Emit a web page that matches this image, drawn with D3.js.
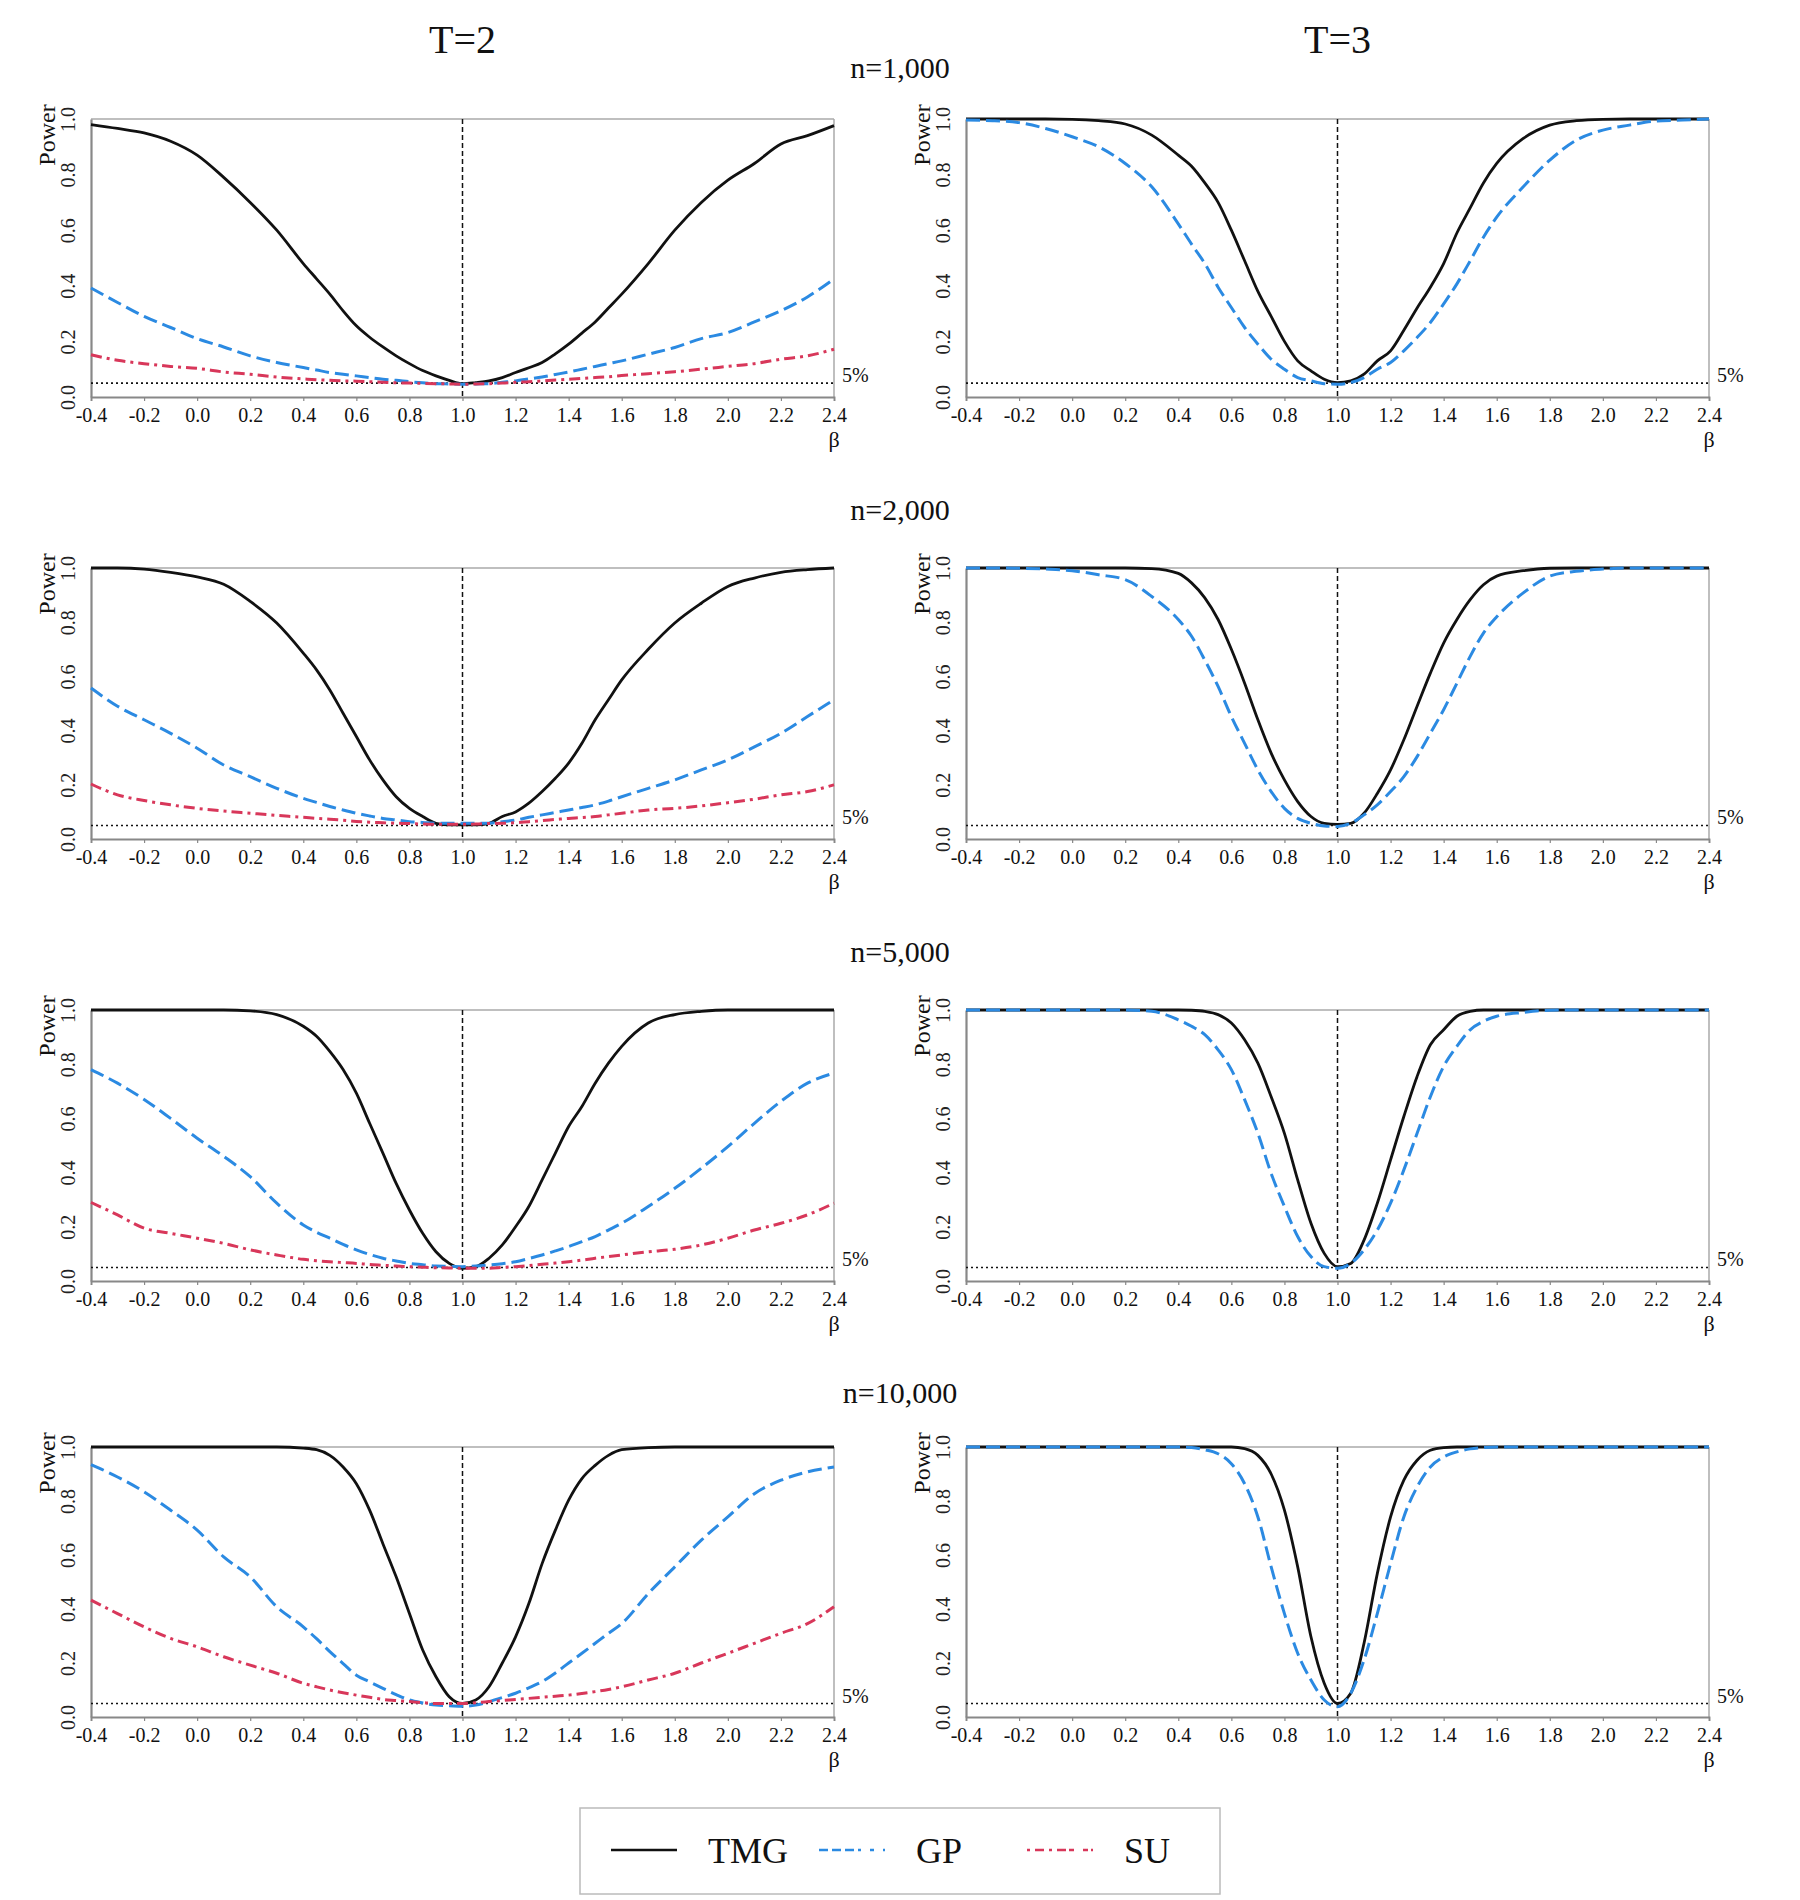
<!DOCTYPE html>
<html>
<head>
<meta charset="utf-8">
<script src="https://cdn.jsdelivr.net/npm/d3@7"></script>
<style>
  body { margin: 0; background: #fff; }
  svg text { font-family: "Liberation Serif", "Times New Roman", serif; fill: #111; }
</style>
</head>
<body>
<div id="chart"></div>
<script>
    // beta grid shared by every curve
    const beta = [-0.4, -0.3, -0.2, -0.1, 0.0, 0.1, 0.2, 0.3,
        0.4, 0.45, 0.5, 0.55, 0.6, 0.65, 0.7, 0.75, 0.8, 0.85, 0.9, 0.95,
        1.0, 1.05, 1.1, 1.15, 1.2, 1.25, 1.3, 1.35, 1.4, 1.45, 1.5, 1.55, 1.6,
        1.7, 1.8, 1.9, 2.0, 2.1, 2.2, 2.3, 2.4]

    const xTicks = [-0.4, -0.2, 0.0, 0.2, 0.4, 0.6, 0.8, 1.0, 1.2, 1.4, 1.6, 1.8, 2.0, 2.2, 2.4]
    const yTicks = [0.0, 0.2, 0.4, 0.6, 0.8, 1.0]
    const columnTitles = ["T=2", "T=3"]
    const rowTitles = ["n=1,000", "n=2,000", "n=5,000", "n=10,000"]
    const seriesNames = ["TMG", "GP", "SU"]

    // T=2, n=1,000
    const tmg_t2_n1000 = [0.98, 0.966, 0.95, 0.92, 0.87, 0.79, 0.70, 0.60,
        0.48, 0.425, 0.37, 0.31, 0.256, 0.215, 0.18, 0.148, 0.12, 0.095, 0.076, 0.06,
        0.048, 0.052, 0.058, 0.07, 0.088, 0.105, 0.124, 0.155, 0.19, 0.23, 0.27, 0.32, 0.37,
        0.48, 0.60, 0.70, 0.78, 0.84, 0.91, 0.94, 0.976]
    const gp_t2_n1000 = [0.392, 0.34, 0.29, 0.25, 0.21, 0.18, 0.148, 0.124,
        0.106, 0.097, 0.088, 0.082, 0.076, 0.07, 0.064, 0.06, 0.055, 0.051, 0.048, 0.047,
        0.046, 0.047, 0.048, 0.053, 0.058, 0.065, 0.072, 0.081, 0.09, 0.1, 0.11, 0.12, 0.13,
        0.154, 0.178, 0.21, 0.232, 0.27, 0.31, 0.36, 0.425]
    const su_t2_n1000 = [0.152, 0.132, 0.12, 0.11, 0.103, 0.09, 0.082, 0.072,
        0.065, 0.062, 0.06, 0.058, 0.057, 0.055, 0.053, 0.051, 0.05, 0.049, 0.048, 0.047,
        0.046, 0.047, 0.048, 0.05, 0.053, 0.055, 0.058, 0.061, 0.064, 0.067, 0.07, 0.073, 0.077,
        0.084, 0.091, 0.1, 0.11, 0.12, 0.136, 0.148, 0.172]

    // T=3, n=1,000
    const tmg_t3_n1000 = [1, 1, 1, 1, 0.999, 0.994, 0.982, 0.942,
        0.87, 0.83, 0.77, 0.70, 0.60, 0.49, 0.38, 0.29, 0.20, 0.13, 0.094, 0.064,
        0.052, 0.058, 0.082, 0.13, 0.166, 0.24, 0.32, 0.395, 0.48, 0.59, 0.68, 0.77, 0.84,
        0.93, 0.978, 0.994, 0.999, 1, 1, 1, 1]
    const gp_t3_n1000 = [0.996, 0.994, 0.987, 0.966, 0.936, 0.90, 0.84, 0.756,
        0.623, 0.55, 0.48, 0.395, 0.322, 0.25, 0.19, 0.136, 0.10, 0.07, 0.058, 0.048,
        0.046, 0.052, 0.07, 0.10, 0.124, 0.166, 0.214, 0.268, 0.335, 0.407, 0.49, 0.575, 0.647,
        0.756, 0.852, 0.924, 0.96, 0.978, 0.993, 0.996, 1.0]

    // T=2, n=2,000
    const tmg_t2_n2000 = [1, 1, 0.996, 0.984, 0.967, 0.94, 0.877, 0.797,
        0.686, 0.624, 0.55, 0.464, 0.378, 0.292, 0.218, 0.156, 0.113, 0.083, 0.058, 0.052,
        0.052, 0.052, 0.058, 0.083, 0.10, 0.132, 0.175, 0.224, 0.28, 0.353, 0.44, 0.514, 0.587,
        0.70, 0.797, 0.87, 0.932, 0.963, 0.984, 0.994, 1.0]
    const gp_t2_n2000 = [0.557, 0.49, 0.44, 0.39, 0.335, 0.273, 0.23, 0.187,
        0.15, 0.135, 0.12, 0.107, 0.095, 0.085, 0.076, 0.07, 0.064, 0.061, 0.058, 0.058,
        0.058, 0.058, 0.058, 0.064, 0.07, 0.08, 0.089, 0.098, 0.107, 0.116, 0.126, 0.14, 0.156,
        0.187, 0.218, 0.255, 0.292, 0.34, 0.39, 0.452, 0.514]
    const su_t2_n2000 = [0.203, 0.163, 0.142, 0.126, 0.113, 0.103, 0.095, 0.087,
        0.08, 0.076, 0.073, 0.069, 0.065, 0.062, 0.06, 0.058, 0.057, 0.055, 0.054, 0.054,
        0.054, 0.055, 0.057, 0.058, 0.06, 0.064, 0.068, 0.072, 0.076, 0.079, 0.083, 0.089, 0.095,
        0.107, 0.113, 0.122, 0.134, 0.147, 0.163, 0.175, 0.2]

    // T=3, n=2,000
    const tmg_t3_n2000 = [1, 1, 1, 1, 1, 1, 1, 0.998,
        0.98, 0.945, 0.89, 0.81, 0.70, 0.575, 0.44, 0.317, 0.218, 0.138, 0.083, 0.058,
        0.054, 0.058, 0.095, 0.168, 0.255, 0.366, 0.49, 0.612, 0.723, 0.81, 0.883, 0.938, 0.97,
        0.99, 0.999, 1, 1, 1, 1, 1, 1]
    const gp_t3_n2000 = [1, 1, 0.999, 0.996, 0.99, 0.975, 0.957, 0.895,
        0.81, 0.748, 0.66, 0.563, 0.452, 0.353, 0.255, 0.175, 0.113, 0.076, 0.058, 0.048,
        0.046, 0.058, 0.089, 0.126, 0.175, 0.23, 0.304, 0.39, 0.477, 0.575, 0.674, 0.76, 0.82,
        0.908, 0.97, 0.988, 0.996, 1, 1, 1, 1]

    // T=2, n=5,000
    const tmg_t2_n5000 = [1, 1, 1, 1, 1, 1, 0.997, 0.983,
        0.94, 0.903, 0.847, 0.78, 0.693, 0.582, 0.472, 0.36, 0.262, 0.176, 0.108, 0.065,
        0.047, 0.053, 0.084, 0.133, 0.2, 0.275, 0.373, 0.472, 0.57, 0.644, 0.73, 0.804, 0.866,
        0.952, 0.983, 0.995, 1, 1, 1, 1, 1]
    const gp_t2_n5000 = [0.78, 0.73, 0.67, 0.6, 0.527, 0.46, 0.385, 0.287,
        0.207, 0.18, 0.158, 0.135, 0.115, 0.098, 0.084, 0.074, 0.065, 0.06, 0.055, 0.054,
        0.053, 0.055, 0.059, 0.064, 0.071, 0.083, 0.096, 0.111, 0.127, 0.145, 0.164, 0.188, 0.213,
        0.275, 0.342, 0.416, 0.496, 0.582, 0.663, 0.73, 0.767]
    const su_t2_n5000 = [0.29, 0.244, 0.195, 0.176, 0.158, 0.139, 0.115, 0.096,
        0.08, 0.075, 0.071, 0.068, 0.065, 0.061, 0.058, 0.055, 0.053, 0.051, 0.049, 0.048,
        0.047, 0.047, 0.047, 0.05, 0.053, 0.057, 0.062, 0.066, 0.071, 0.077, 0.084, 0.09, 0.096,
        0.108, 0.117, 0.133, 0.158, 0.188, 0.213, 0.244, 0.287]

    // T=3, n=5,000
    const tmg_t3_n5000 = [1, 1, 1, 1, 1, 1, 1, 1,
        1, 0.999, 0.995, 0.983, 0.952, 0.89, 0.804, 0.68, 0.545, 0.373, 0.213, 0.102,
        0.053, 0.065, 0.151, 0.287, 0.447, 0.607, 0.755, 0.872, 0.927, 0.977, 0.995, 1, 1,
        1, 1, 1, 1, 1, 1, 1, 1]
    const gp_t3_n5000 = [1, 1, 1, 1, 1, 1, 1, 0.995,
        0.964, 0.94, 0.909, 0.853, 0.78, 0.669, 0.545, 0.397, 0.275, 0.164, 0.09, 0.053,
        0.047, 0.065, 0.115, 0.188, 0.287, 0.41, 0.545, 0.68, 0.792, 0.866, 0.927, 0.958, 0.977,
        0.991, 0.999, 1, 1, 1, 1, 1, 1]

    // T=2, n=10,000
    const tmg_t2_n10000 = [1, 1, 1, 1, 1, 1, 1, 1,
        0.996, 0.99, 0.969, 0.926, 0.864, 0.766, 0.642, 0.519, 0.383, 0.248, 0.149, 0.075,
        0.05, 0.063, 0.112, 0.2, 0.297, 0.42, 0.568, 0.692, 0.803, 0.883, 0.932, 0.969, 0.99,
        0.998, 1, 1, 1, 1, 1, 1, 1]
    const gp_t2_n10000 = [0.935, 0.889, 0.834, 0.766, 0.692, 0.593, 0.519, 0.408,
        0.334, 0.29, 0.242, 0.198, 0.155, 0.13, 0.106, 0.083, 0.063, 0.052, 0.044, 0.042,
        0.04, 0.044, 0.057, 0.072, 0.088, 0.108, 0.131, 0.163, 0.2, 0.236, 0.273, 0.31, 0.346,
        0.457, 0.556, 0.655, 0.741, 0.827, 0.877, 0.908, 0.926]
    const su_t2_n10000 = [0.433, 0.383, 0.334, 0.291, 0.26, 0.223, 0.192, 0.162,
        0.125, 0.112, 0.1, 0.09, 0.081, 0.073, 0.065, 0.061, 0.057, 0.053, 0.05, 0.05,
        0.05, 0.053, 0.057, 0.061, 0.065, 0.069, 0.073, 0.077, 0.081, 0.087, 0.094, 0.102, 0.112,
        0.137, 0.162, 0.2, 0.236, 0.273, 0.31, 0.346, 0.408]

    // T=3, n=10,000
    const tmg_t3_n10000 = [1, 1, 1, 1, 1, 1, 1, 1,
        1, 1, 1, 1, 1, 0.994, 0.969, 0.9, 0.766, 0.556, 0.297, 0.125,
        0.05, 0.088, 0.273, 0.531, 0.741, 0.877, 0.951, 0.988, 0.998, 1, 1, 1, 1,
        1, 1, 1, 1, 1, 1, 1, 1]
    const gp_t3_n10000 = [1, 1, 1, 1, 1, 1, 1, 1,
        1, 0.998, 0.99, 0.975, 0.938, 0.864, 0.741, 0.556, 0.383, 0.236, 0.137, 0.063,
        0.038, 0.088, 0.211, 0.383, 0.568, 0.741, 0.852, 0.926, 0.963, 0.982, 0.993, 0.998, 1,
        1, 1, 1, 1, 1, 1, 1, 1]

    const rows = [
        [[tmg_t2_n1000, gp_t2_n1000, su_t2_n1000], [tmg_t3_n1000, gp_t3_n1000]],
        [[tmg_t2_n2000, gp_t2_n2000, su_t2_n2000], [tmg_t3_n2000, gp_t3_n2000]],
        [[tmg_t2_n5000, gp_t2_n5000, su_t2_n5000], [tmg_t3_n5000, gp_t3_n5000]],
        [[tmg_t2_n10000, gp_t2_n10000, su_t2_n10000], [tmg_t3_n10000, gp_t3_n10000]]
    ]

    // layout
    const width = 1800
    const height = 1900
    const colLeft = [91, 966]
    const colRight = [834, 1709]
    const rowTop = [119, 568, 1010, 1447]
    const rowBottom = [397, 839, 1281, 1717]
    const rowTitleY = [78, 520, 962, 1403]

    const seriesStyle = {
        TMG: { color: "#111111", width: 2.8, dash: null },
        GP: { color: "#2b8ae2", width: 3, dash: "14,6" },
        SU: { color: "#d8375a", width: 3, dash: "11,5,3,5" }
    }

    const svg = d3.select("#chart")
        .append("svg")
        .attr("width", width)
        .attr("height", height)

    svg.selectAll(".col-title")
        .data(columnTitles)
        .join("text")
        .attr("x", (d, i) => (colLeft[i] + colRight[i]) / 2)
        .attr("y", 53)
        .attr("text-anchor", "middle")
        .style("font-size", "40px")
        .text(d => d)

    function drawPanel(r, c) {
        const left = colLeft[c], right = colRight[c]
        const top = rowTop[r], bottom = rowBottom[r]
        const x = d3.scaleLinear().domain([-0.4, 2.4]).range([left, right])
        const y = d3.scaleLinear().domain([0, 1]).range([bottom, top])
        const g = svg.append("g")

        // frame: top line and right edge
        g.append("line")
            .attr("x1", left).attr("x2", right)
            .attr("y1", top).attr("y2", top)
            .style("stroke", "#aaa").style("stroke-width", 1.5)
        g.append("line")
            .attr("x1", right).attr("x2", right)
            .attr("y1", top).attr("y2", bottom)
            .style("stroke", "#aaa").style("stroke-width", 1.5)

        // y axis with rotated labels
        const yAxis = g.append("g")
            .attr("transform", `translate(${left},0)`)
            .call(d3.axisLeft(y).tickValues(yTicks).tickSize(0).tickFormat(d => d.toFixed(1)))
        yAxis.select(".domain").style("stroke", "#888").style("stroke-width", 2.2)
        yAxis.selectAll("text")
            .attr("transform", "rotate(-90)")
            .attr("x", 0)
            .attr("y", -16)
            .attr("dy", 0)
            .attr("text-anchor", "middle")
            .style("font-size", "20px")
            .style("font-family", "Liberation Serif")
            .style("fill", "#222")

        // x axis
        const xAxis = g.append("g")
            .attr("transform", `translate(0,${bottom})`)
            .call(d3.axisBottom(x).tickValues(xTicks).tickSize(4).tickPadding(7)
                .tickFormat(d => d.toFixed(1)))
        xAxis.select(".domain").style("stroke", "#888").style("stroke-width", 1.8)
        xAxis.selectAll(".tick line").style("stroke", "#888").style("stroke-width", 1.2)
        xAxis.selectAll("text")
            .style("font-size", "20px")
            .style("font-family", "Liberation Serif")
            .style("fill", "#111")

        g.append("text")
            .attr("transform", `translate(${left - 36},${top + 16}) rotate(-90)`)
            .attr("text-anchor", "middle")
            .style("font-size", "24px")
            .text("Power")

        g.append("text")
            .attr("x", right)
            .attr("y", bottom + 50)
            .attr("text-anchor", "middle")
            .style("font-size", "22px")
            .text("β")

        // 5% reference and beta = 1 marker
        g.append("line")
            .attr("x1", left).attr("x2", right)
            .attr("y1", y(0.05)).attr("y2", y(0.05))
            .style("stroke", "#111").style("stroke-width", 1.6)
            .style("stroke-dasharray", "2,3")
        g.append("text")
            .attr("x", right + 8)
            .attr("y", y(0.05) - 1)
            .style("font-size", "20px")
            .text("5%")
        g.append("line")
            .attr("x1", x(1.0)).attr("x2", x(1.0))
            .attr("y1", top).attr("y2", bottom)
            .style("stroke", "#111").style("stroke-width", 1.5)
            .style("stroke-dasharray", "5,3")

        const line = d3.line()
            .x((d, i) => x(beta[i]))
            .y(d => y(d))
            .curve(d3.curveMonotoneX)

        rows[r][c].forEach((vals, k) => {
            const st = seriesStyle[seriesNames[k]]
            g.append("path")
                .attr("d", line(vals))
                .style("fill", "none")
                .style("stroke", st.color)
                .style("stroke-width", st.width)
                .style("stroke-dasharray", st.dash)
                .style("stroke-linejoin", "round")
        })
    }

    for (let r = 0; r < rows.length; r++) {
        svg.append("text")
            .attr("x", (colRight[0] + colLeft[1]) / 2)
            .attr("y", rowTitleY[r])
            .attr("text-anchor", "middle")
            .style("font-size", "30px")
            .text(rowTitles[r])
        for (let c = 0; c < 2; c++) {
            drawPanel(r, c)
        }
    }

    // legend
    const legend = svg.append("g")
    legend.append("rect")
        .attr("x", 580).attr("y", 1808)
        .attr("width", 640).attr("height", 86)
        .style("fill", "#fff")
        .style("stroke", "#bbb")
        .style("stroke-width", 1.5)

    const legendX = [611, 819, 1027]
    const legendDash = { TMG: null, GP: "9,4,9,4,9,4,3", SU: "3,5,9,5,3,5,9" }
    seriesNames.forEach((name, i) => {
        const st = seriesStyle[name]
        legend.append("line")
            .attr("x1", legendX[i]).attr("x2", legendX[i] + 66)
            .attr("y1", 1850).attr("y2", 1850)
            .style("stroke", st.color)
            .style("stroke-width", 2.5)
            .style("stroke-dasharray", legendDash[name])
        legend.append("text")
            .attr("x", legendX[i] + 97)
            .attr("y", 1863)
            .style("font-size", "36px")
            .text(name)
    })
</script>
</body>
</html>
